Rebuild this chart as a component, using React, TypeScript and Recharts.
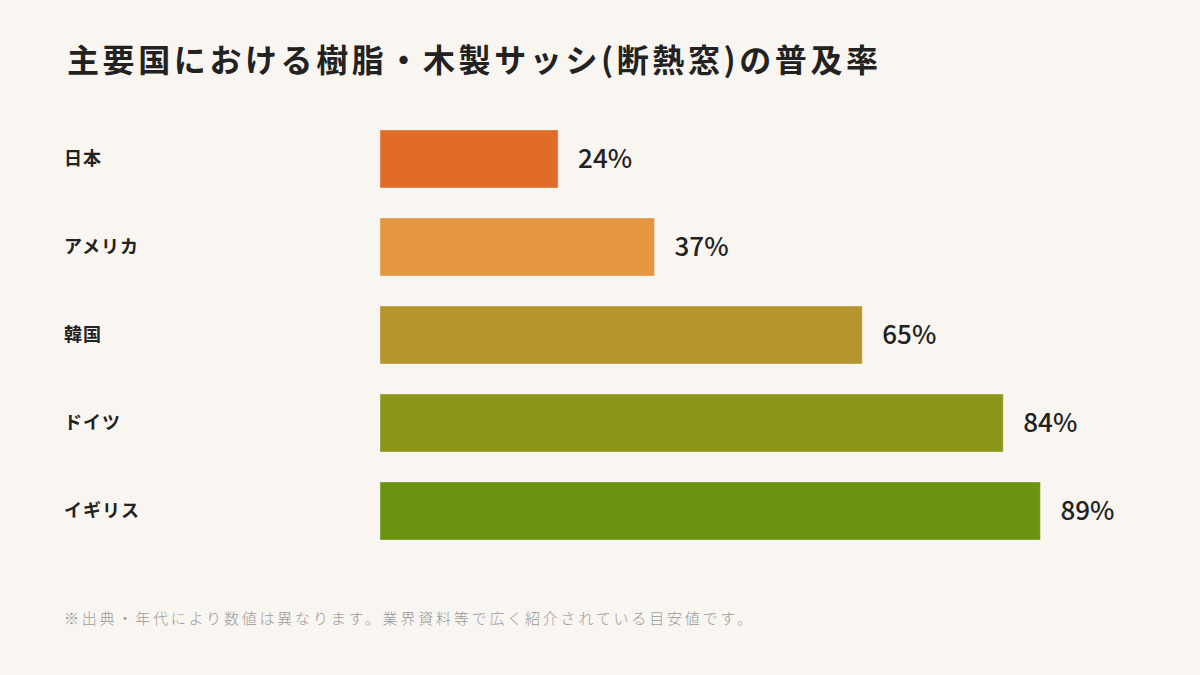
import { BarChart, Bar, XAxis, YAxis, Cell, LabelList } from 'recharts';

const countries = ['日本', 'アメリカ', '韓国', 'ドイツ', 'イギリス'];
const shares = [24, 37, 65, 84, 89];
const barColors = ['#e06c28', '#e69540', '#b5962c', '#8c9619', '#6a930f'];

const data = countries.map((name, i) => ({ name, value: shares[i] }));

const FONT = '"Noto Sans CJK JP", "Noto Sans", sans-serif';

function CountryTick({ y, payload }: any) {
  return (
    <text
      x={64}
      y={y}
      dy={6}
      textAnchor="start"
      fill="#222222"
      fontSize={18}
      fontWeight={700}
      letterSpacing={1}
      fontFamily={FONT}
    >
      {payload.value}
    </text>
  );
}

export default function App() {
  return (
    <div
      style={{
        position: 'absolute',
        left: 0,
        top: 0,
        width: 1200,
        height: 675,
        background: '#f9f5f0',
        fontFamily: FONT,
        overflow: 'hidden',
      }}
    >
      <div
        style={{
          position: 'absolute',
          left: 67,
          top: 42,
          fontSize: 32,
          lineHeight: 1,
          fontWeight: 700,
          letterSpacing: 3.6,
          color: '#222222',
          whiteSpace: 'nowrap',
        }}
      >
        主要国における樹脂・木製サッシ(断熱窓)の普及率
      </div>

      <BarChart
        width={1200}
        height={675}
        data={data}
        layout="vertical"
        margin={{ top: 115, right: 78, bottom: 120, left: 0 }}
        barSize={58}
      >
        <XAxis type="number" domain={[0, 100]} hide />
        <YAxis
          type="category"
          dataKey="name"
          width={380}
          axisLine={false}
          tickLine={false}
          tick={<CountryTick />}
        />
        <Bar dataKey="value" isAnimationActive={false} stroke="rgba(255,255,255,0.35)" strokeWidth={1}>
          {data.map((entry, idx) => (
            <Cell key={entry.name} fill={barColors[idx]} />
          ))}
          <LabelList
            dataKey="value"
            position="right"
            offset={20}
            formatter={(v: any) => `${v}%`}
            fill="#222222"
            fontSize={26}
            fontWeight={500}
            fontFamily={FONT}
          />
        </Bar>
      </BarChart>

      <div
        style={{
          position: 'absolute',
          left: 64,
          top: 610,
          fontSize: 15,
          lineHeight: 1,
          fontWeight: 300,
          letterSpacing: 2.8,
          color: '#9a9a9a',
          whiteSpace: 'nowrap',
        }}
      >
        ※出典・年代により数値は異なります。業界資料等で広く紹介されている目安値です。
      </div>
    </div>
  );
}
